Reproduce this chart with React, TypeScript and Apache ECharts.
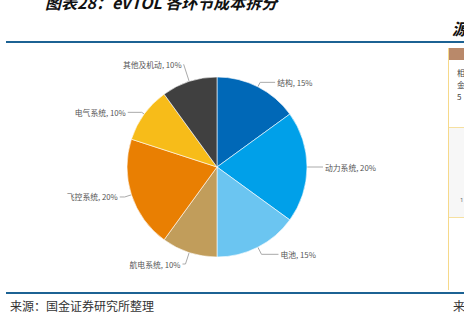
import React, { useEffect, useRef } from "react";
import * as echarts from "echarts";

const categories = ["结构", "动力系统", "电池", "航电系统", "飞控系统", "电气系统", "其他及机动"];
const values = [15, 20, 15, 10, 20, 10, 10];
const colors = ["#0068b7", "#00a0e9", "#6bc5f1", "#c19d5b", "#e97f02", "#f7bc19", "#404040"];
const lineLen1 = [5, 8, 8, 12, 7, 3, 18];
const lineLen2 = [15, 8, 17, 3, 5, 14, 0];

const titleText = "图表28：eVTOL 各环节成本拆分";
const sourceText = "来源：国金证券研究所整理";

export default function App() {
  const ref = useRef<HTMLDivElement>(null);
  useEffect(() => {
    if (!ref.current) return;
    const chart = echarts.init(ref.current, null, { renderer: "svg" });
    const data = categories.map((c, i) => ({
      name: c,
      value: values[i],
      itemStyle: { color: colors[i] },
      labelLine: { length: lineLen1[i], length2: lineLen2[i] },
    }));
    chart.setOption({
      animation: false,
      backgroundColor: "#ffffff",
      graphic: [
        {
          type: "text",
          left: 45,
          top: -6,
          style: {
            text: titleText,
            font: "italic bold 16px 'Noto Sans CJK SC'",
            fill: "#111",
          },
        },
        {
          type: "text",
          left: 452,
          top: 20,
          style: { text: "源", font: "italic bold 16px 'Noto Sans CJK SC'", fill: "#111" },
        },
        {
          type: "line",
          shape: { x1: 6, y1: 42, x2: 464, y2: 42 },
          style: { stroke: "#1c6293", lineWidth: 2 },
        },
        {
          type: "line",
          shape: { x1: 6, y1: 293, x2: 464, y2: 293 },
          style: { stroke: "#1c6293", lineWidth: 2 },
        },
        {
          type: "text",
          left: 10,
          top: 299,
          style: { text: sourceText, font: "12px 'Noto Sans CJK SC'", fill: "#333" },
        },
        {
          type: "text",
          left: 453,
          top: 299,
          style: { text: "来", font: "12px 'Noto Sans CJK SC'", fill: "#333" },
        },
        {
          type: "rect",
          shape: { x: 449, y: 48, width: 15, height: 12 },
          style: { fill: "#b9896a" },
        },
        {
          type: "line",
          shape: { x1: 448.5, y1: 48, x2: 448.5, y2: 290 },
          style: { stroke: "#f6d98a", lineWidth: 1 },
        },
        {
          type: "line",
          shape: { x1: 449, y1: 127.5, x2: 464, y2: 127.5 },
          style: { stroke: "#f6e0a0", lineWidth: 1 },
        },
        {
          type: "line",
          shape: { x1: 449, y1: 217.5, x2: 464, y2: 217.5 },
          style: { stroke: "#f6e0a0", lineWidth: 1 },
        },
        {
          type: "rect",
          shape: { x: 449, y: 128, width: 15, height: 89 },
          style: { fill: "#f7f7f7" },
        },
        {
          type: "text",
          left: 457,
          top: 66,
          style: { text: "相\n金\n5", font: "8px 'Noto Sans CJK SC'", fill: "#444", lineHeight: 12 },
        },
        {
          type: "text",
          left: 460,
          top: 197,
          style: { text: "1", font: "6px 'Noto Sans'", fill: "#666" },
        },
      ],
      series: [
        {
          type: "pie",
          center: [217, 167],
          radius: 90,
          startAngle: 90,
          clockwise: true,
          data,
          itemStyle: { borderColor: "#ffffff", borderWidth: 0.6 },
          label: {
            show: true,
            formatter: "{b}, {c}%",
            fontSize: 7.8,
            color: "#555555",
            fontFamily: "'Noto Sans CJK SC'",
            distanceToLabelLine: 2,
          },
          labelLine: {
            show: true,
            lineStyle: { color: "#aaaaaa", width: 1 },
          },
        },
      ],
    });
    return () => chart.dispose();
  }, []);
  return (
    <div
      ref={ref}
      style={{ position: "fixed", left: 0, top: 0, width: 464, height: 320 }}
    />
  );
}
